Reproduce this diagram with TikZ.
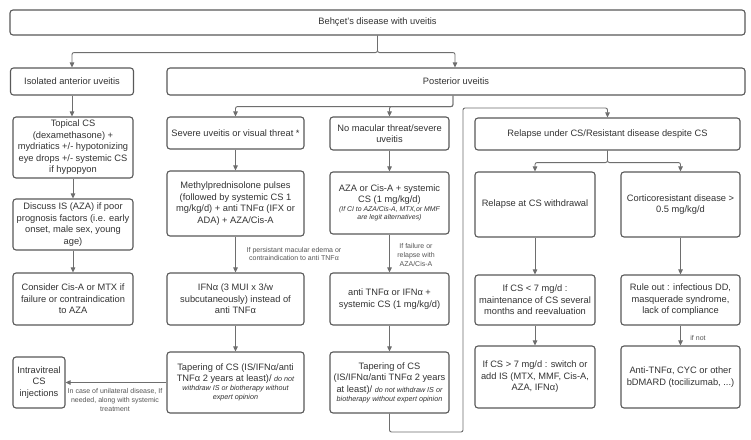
\documentclass[tikz,border=0pt]{standalone}
\usepackage{fontspec}
\setmainfont{Liberation Sans}
\usetikzlibrary{arrows.meta}
\definecolor{bd}{HTML}{595959}
\definecolor{ln}{HTML}{6E6E6E}
\definecolor{tx}{HTML}{333333}
\definecolor{lt}{HTML}{555555}
\tikzset{
  box/.style={draw=bd, line width=1.1pt, rounded corners=3pt, align=center,
    inner sep=1pt, text=tx, font=\fontsize{9.3}{11.5}\selectfont},
  conn/.style={draw=ln, line width=0.9pt, rounded corners=2pt,
    -{Triangle[length=5pt,width=4.5pt]}},
  lbl/.style={text=lt, font=\fontsize{7}{8.8}\selectfont, align=center, inner sep=0pt}
}
\newcommand\smit[1]{{\fontsize{7.2}{8.5}\selectfont\itshape #1}}
\newcommand\smitb[1]{{\fontsize{6.9}{8.5}\selectfont\itshape #1}}
\begin{document}
\begin{tikzpicture}[x=1pt,y=-1pt]
\fill[white] (0,0) rectangle (751,439);
\useasboundingbox (0,0) rectangle (751,439);

% top level
\node[box, minimum width=735pt, minimum height=25pt] (top) at (377.5,22.5) {Behçet's disease with uveitis};
\node[box, minimum width=123pt, minimum height=27pt] (iso) at (72,81.5) {Isolated anterior uveitis};
\node[box, minimum width=578pt, minimum height=27pt] (post) at (456,81.5) {Posterior uveitis};

% left column
\node[box, minimum width=120pt, minimum height=61pt] (topical) at (73,147.5) {Topical CS\\(dexamethasone) +\\mydriatics +/- hypotonizing\\eye drops +/- systemic CS\\if hypopyon};
\node[box, minimum width=120pt, minimum height=51pt] (discuss) at (73,224.5) {Discuss IS (AZA) if poor\\prognosis factors (i.e. early\\onset, male sex, young\\age)};
\node[box, minimum width=120pt, minimum height=52pt] (consider) at (73,299) {Consider Cis-A or MTX if\\failure or contraindication\\to AZA};
\node[box, minimum width=52pt, minimum height=51pt] (intra) at (39,382.5) {Intravitreal\\CS\\injections};

% severe column
\node[box, minimum width=137pt, minimum height=32pt] (severe) at (235.5,133) {Severe uveitis or visual threat *};
\node[box, minimum width=137pt, minimum height=65pt] (methyl) at (235.5,203.5) {Methylprednisolone pulses\\(followed by systemic CS 1\\mg/kg/d) + anti TNFα (IFX or\\ADA) + AZA/Cis-A};
\node[box, minimum width=137pt, minimum height=52pt] (ifn) at (235.5,299) {IFNα (3 MUI x 3/w\\subcutaneously) instead of\\anti TNFα};
\node[box, minimum width=137pt, minimum height=61pt] (tapl) at (235.5,382.5) {Tapering of CS (IS/IFNα/anti\\TNFα 2 years at least)/ \smit{do not}\\[-2.5pt]\smit{withdraw IS or biotherapy without}\\[-2.5pt]\smit{expert opinion}};

% middle column
\node[box, minimum width=119pt, minimum height=33pt] (nomac) at (389.5,133.5) {No macular threat/severe\\uveitis};
\node[box, minimum width=119pt, minimum height=62pt] (aza) at (389.5,203) {AZA or Cis-A + systemic\\CS (1 mg/kg/d)\\[-3pt]\smitb{(If CI to AZA/Cis-A, MTX,or MMF}\\[-3pt]\smitb{are legit alternatives)}};
\node[box, minimum width=119pt, minimum height=52pt] (anti) at (389.5,299) {anti TNFα or IFNα +\\systemic CS (1 mg/kg/d)};
\node[box, minimum width=119pt, minimum height=61pt] (tapm) at (389.5,382.5) {Tapering of CS\\(IS/IFNα/anti TNFα 2 years\\at least)/ \smit{do not withdraw IS or}\\[-2.5pt]\smit{biotherapy without expert opinion}};

% right part
\node[box, minimum width=265pt, minimum height=32pt] (relapse) at (607.5,134) {Relapse under CS/Resistant disease despite CS};
\node[box, minimum width=120pt, minimum height=65pt] (relw) at (535,204.5) {Relapse at CS withdrawal};
\node[box, minimum width=119pt, minimum height=65pt] (cortico) at (680.5,204.5) {Corticoresistant disease >\\0.5 mg/kg/d};
\node[box, minimum width=120pt, minimum height=50pt] (lt7) at (535,300) {If CS < 7 mg/d :\\maintenance of CS several\\months and reevaluation};
\node[box, minimum width=119pt, minimum height=50pt] (rule) at (680.5,300) {Rule out : infectious DD,\\masquerade syndrome,\\lack of compliance};
\node[box, minimum width=120pt, minimum height=62pt] (gt7) at (535,377) {If CS > 7 mg/d : switch or\\add IS (MTX, MMF, Cis-A,\\AZA, IFNα)};
\node[box, minimum width=119pt, minimum height=62pt] (bdm) at (680.5,377) {Anti-TNFα, CYC or other\\bDMARD (tocilizumab, ...)};

% labels
\node[lbl] (l1) at (294,254) {If persistant macular edema or\\contraindication to anti TNFα};
\node[lbl] (l2) at (416,255) {If failure or\\relapse with\\AZA/Cis-A};
\node[lbl] (l3) at (115,400) {In case of unilateral disease, If\\needed, along with systemic\\treatment};
\node[lbl] (l4) at (698,338) {if not};

% connectors
\draw[conn] (top.south) -- ++(0,17) -| (iso.north);
\draw[conn] (top.south) -- ++(0,17) -| ([xshift=-1pt]post.north);
\draw[conn] (iso.south) -- (iso.south |- topical.north);
\draw[conn] (topical) -- (discuss);
\draw[conn] (discuss) -- (consider);

\draw[conn] ([xshift=-3pt]post.south) -- ++(0,11) -| (severe.north);
\draw[conn] ([xshift=-3pt]post.south) -- ++(0,11) -| (nomac.north);

\draw[conn] (severe) -- (methyl);
\draw[conn] (methyl) -- (ifn);
\draw[conn] (ifn) -- (tapl);
\draw[conn] (tapl.west) -- (intra.east);

\draw[conn] (nomac) -- (aza);
\draw[conn] (aza) -- (anti);
\draw[conn] (anti) -- (tapm);

\coordinate (lp1) at (463,432);
\coordinate (lp2) at (463,108);
\draw[conn] (tapm.south) |- (lp1) -- (lp2) -| (relapse.north);

\draw[conn] (relapse.south) -- ++(0,12) -| (relw.north);
\draw[conn] (relapse.south) -- ++(0,12) -| (cortico.north);
\draw[conn] (relw) -- (lt7);
\draw[conn] (lt7) -- (gt7);
\draw[conn] (cortico) -- (rule);
\draw[conn] (rule) -- (bdm);
\end{tikzpicture}
\end{document}
